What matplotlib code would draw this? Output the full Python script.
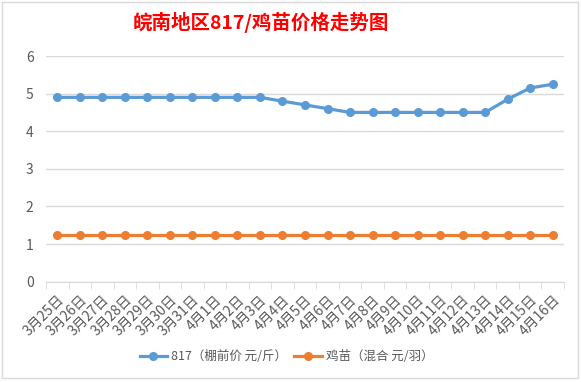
import matplotlib
matplotlib.use('Agg')
import matplotlib.pyplot as plt
from matplotlib.patches import Rectangle
import numpy as np

plt.rcParams['font.family'] = ['Noto Sans CJK SC', 'DejaVu Sans']

dates = ['3月25日', '3月26日', '3月27日', '3月28日', '3月29日', '3月30日', '3月31日',
         '4月1日', '4月2日', '4月3日', '4月4日', '4月5日', '4月6日', '4月7日', '4月8日',
         '4月9日', '4月10日', '4月11日', '4月12日', '4月13日', '4月14日', '4月15日', '4月16日']
price_817 = [4.9, 4.9, 4.9, 4.9, 4.9, 4.9, 4.9, 4.9, 4.9, 4.9, 4.8, 4.7, 4.6,
             4.5, 4.5, 4.5, 4.5, 4.5, 4.5, 4.5, 4.85, 5.15, 5.25]
chick = [1.25] * 23

fig = plt.figure(figsize=(5.81, 3.82), dpi=100)
fig.patches.append(Rectangle((0.004, 0.011), 0.99, 0.983, transform=fig.transFigure,
                             fill=False, edgecolor='#d9d9d9', linewidth=1))
ax = fig.add_axes([0.0792, 0.2626, 0.8915, 0.5908])

x = np.arange(len(dates))
l1, = ax.plot(x, price_817, color='#5B9BD5', linewidth=2.3, marker='o', markersize=5.5,
              label='817（棚前价 元/斤）')
l2, = ax.plot(x, chick, color='#ED7D31', linewidth=2.3, marker='o', markersize=5.5,
              label='鸡苗（混合 元/羽）')

ax.set_xlim(-0.5, len(dates) - 0.5)
ax.set_ylim(0, 6)
ax.set_yticks(range(7))
ax.grid(axis='y', color='#d9d9d9', linewidth=1)
ax.set_axisbelow(True)
for s in ['top', 'right', 'left']:
    ax.spines[s].set_visible(False)
ax.spines['bottom'].set_color('#d9d9d9')
ax.tick_params(axis='y', length=0, labelsize=10, labelcolor='#595959', pad=9)

ax.set_xticks(x)
ax.set_xticklabels(dates, rotation=45, ha='right', va='top', rotation_mode='anchor',
                   fontsize=10, color='#595959')
ax.tick_params(axis='x', which='major', length=0, pad=8)
ax.set_xticks(np.arange(-0.5, len(dates)), minor=True)
ax.tick_params(axis='x', which='minor', length=5, color='#d9d9d9')

fig.text(0.449, 0.94, '皖南地区817/鸡苗价格走势图', color='#ff0000', fontsize=14,
         fontweight='bold', ha='center', va='center')

fig.legend(handles=[l1, l2], loc='center', bbox_to_anchor=(0.493, 0.066), ncol=2,
           frameon=False, fontsize=9, labelcolor='#595959', handlelength=2.2,
           columnspacing=0.6, handletextpad=0.3)

fig.savefig('out.png', dpi=100)
